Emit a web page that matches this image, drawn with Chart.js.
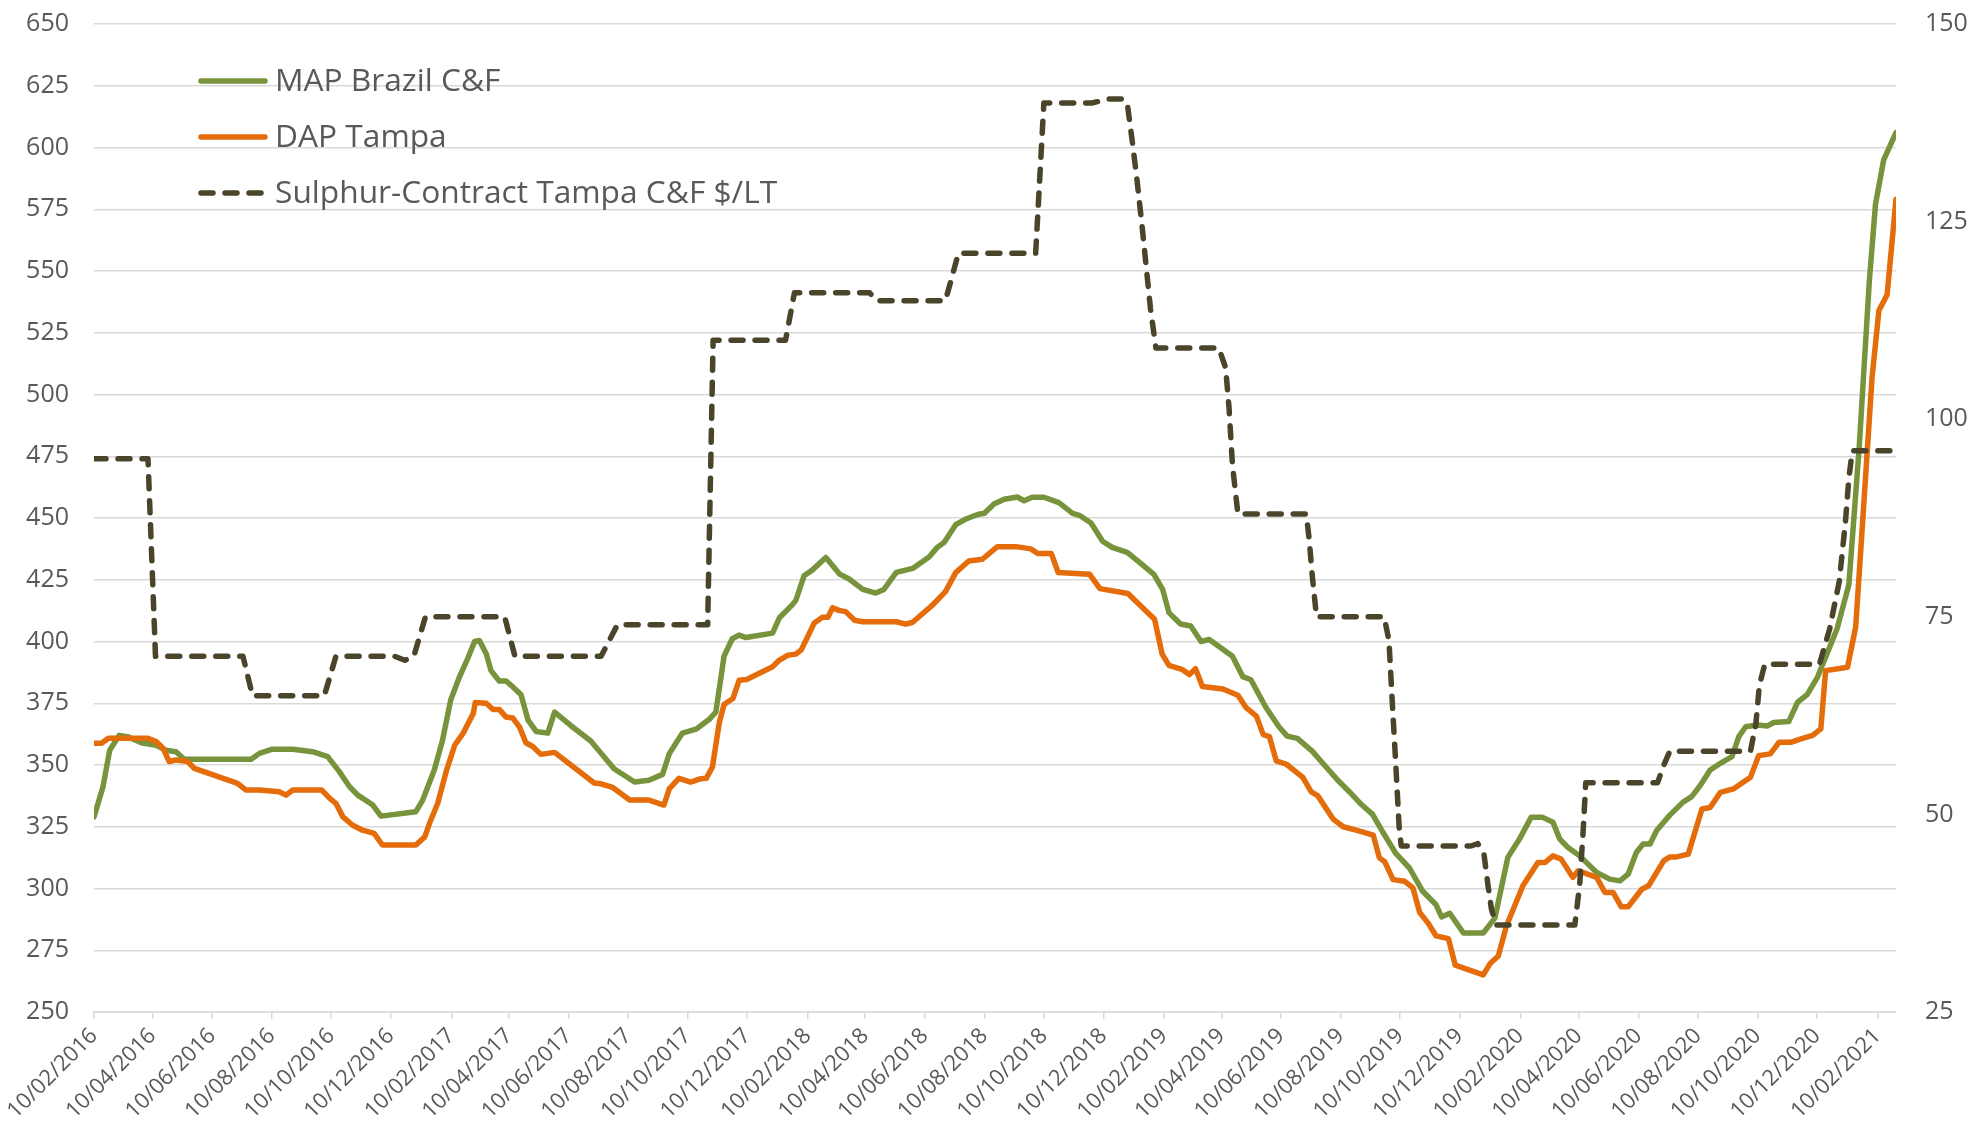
<!DOCTYPE html>
<html>
<head>
<meta charset="utf-8">
<title>MAP / DAP / Sulphur</title>
<script src="https://cdn.jsdelivr.net/npm/chart.js@4.4.1/dist/chart.umd.min.js"></script>
<style>
    html, body { margin: 0; padding: 0; background: #ffffff; }
    #wrap { width: 1977px; height: 1125px; }
</style>
</head>
<body>
<div id="wrap"><canvas id="myChart" width="1977" height="1125"></canvas></div>
<script>
// x values are weeks counted from 10/02/2016
const tickLabels = [
    "10/02/2016", "10/04/2016", "10/06/2016", "10/08/2016", "10/10/2016", "10/12/2016",
    "10/02/2017", "10/04/2017", "10/06/2017", "10/08/2017", "10/10/2017", "10/12/2017",
    "10/02/2018", "10/04/2018", "10/06/2018", "10/08/2018", "10/10/2018", "10/12/2018",
    "10/02/2019", "10/04/2019", "10/06/2019", "10/08/2019", "10/10/2019", "10/12/2019",
    "10/02/2020", "10/04/2020", "10/06/2020", "10/08/2020", "10/10/2020", "10/12/2020",
    "10/02/2021"
];
const leftTicks = [250, 650, 25];   // min, max, step
const rightTicks = [25, 150, 25];

const seriesNames = ["MAP Brazil C&F", "DAP Tampa", "Sulphur-Contract Tampa C&F $/LT"];

const mapWeeks = [
    0, 1.3, 2.3, 3.7, 4.9, 6.9, 9.1, 10.5, 12, 13.2,
    23, 24.2, 26.1, 29.1, 32, 34.2, 35.9, 37.4, 38.6, 40.8,
    42, 47.1, 48.1, 49.8, 51, 52.2, 53.5, 54.7, 55.7, 56.4,
    57.4, 58.1, 59.3, 60.3, 61.3, 62.5, 63.5, 64.7, 66.4, 67.4,
    69.8, 72.7, 76.1, 79.1, 81.2, 83.2, 84.2, 86.1, 88.1, 90,
    91, 92.2, 93.4, 94.4, 95.4, 99.3, 100.3, 102, 102.7, 103.9,
    105.1, 107.1, 109.1, 110.5, 112.5, 114.4, 115.6, 117.4, 119.8, 122.2,
    123.4, 124.4, 126.1, 127.6, 129.3, 130.3, 131.7, 133.2, 135.1, 136.1,
    137.3, 139, 141.2, 143.2, 144.2, 145.9, 147.6, 149, 151.2, 153.4,
    155.1, 156.4, 157.3, 159, 160.5, 162, 163.2, 166.6, 168.1, 169.3,
    171.5, 173.4, 174.6, 176.1, 178.3, 180.3, 182.2, 183.7, 185.4, 187.1,
    188.5, 190.5, 192.5, 194.4, 196.4, 197.2, 198.4, 200.4, 203.3, 205,
    206.9, 208.6, 210.3, 212, 213.5, 214.5, 215.7, 217.4, 219.9, 221.8,
    223.3, 224.5, 225.7, 226.7, 227.7, 228.7, 230.6, 232.6, 233.8, 235.1,
    236.5, 238, 239.7, 240.7, 241.7, 243.4, 244.9, 245.8, 248, 249.3,
    250.7, 252.2, 253.4, 255.1, 256.8, 258.3, 259.8, 260.7, 261.9, 263.7
];
const mapValues = [
    329, 341, 356, 362, 361.5, 359, 358, 356, 355.4, 352.3,
    352.3, 354.7, 356.4, 356.4, 355.4, 353.4, 347.3, 341.2, 337.8, 333.8,
    329.3, 331.1, 335.8, 348, 360, 376.3, 385.8, 393.2, 400, 400.4,
    395, 388.2, 384, 384, 381.6, 378.4, 368.3, 363.6, 362.9, 371.4,
    365.9, 359.7, 348.5, 343.1, 343.8, 346.2, 354.7, 362.9, 364.5, 368.4,
    371.4, 394.1, 401.1, 402.6, 401.6, 403.4, 409.6, 414.3, 416.6, 426.6,
    428.9, 434, 427.3, 425.3, 421.1, 419.6, 421.1, 428, 429.6, 434.2,
    438.1, 440.1, 447.3, 449.6, 451.4, 451.9, 455.7, 457.6, 458.5, 457,
    458.4, 458.4, 456.2, 451.9, 451.1, 448, 440.6, 438.1, 436.1, 431.1,
    427.2, 421, 411.7, 407.1, 406.3, 400, 400.8, 394, 385.8, 384.5,
    373.3, 365.5, 361.7, 360.8, 355.5, 349.2, 343.3, 339.2, 334.2, 330,
    323.3, 314.2, 308.3, 299, 293.4, 288.5, 290, 282, 282, 288,
    312.6, 320, 328.8, 328.8, 326.8, 320, 316.6, 313.2, 306.5, 303.8,
    303.1, 305.8, 314.6, 318, 318, 323.6, 329.7, 335.1, 337.2, 341.9,
    348, 350.7, 353.4, 361.5, 365.5, 366.2, 365.8, 367.2, 367.6, 375.4,
    378.5, 385.5, 393.6, 405.4, 423, 478, 546, 577, 595, 606
];

const dapWeeks = [
    0, 1.1, 2.1, 7.9, 9.1, 10.1, 11, 12, 13.7, 14.7,
    21, 22.2, 24.2, 27.1, 28.1, 29.1, 33.3, 34.5, 35.4, 36.4,
    37.8, 39.3, 41, 42.2, 47.1, 48.4, 49.1, 50.3, 51.6, 52.8,
    54, 55.5, 55.8, 57.4, 58.4, 59.3, 60.3, 61.3, 62.3, 63.2,
    64.2, 65.4, 67.4, 73.2, 74.2, 75.9, 78.4, 81.2, 83.4, 84.2,
    85.6, 87.3, 88.6, 89.6, 90.5, 91.5, 92.2, 93.5, 94.4, 95.5,
    99.3, 100.3, 101.5, 102.7, 103.5, 105.4, 106.6, 107.4, 108.1, 109,
    110, 111.3, 112.5, 117.4, 118.8, 119.8, 122.7, 124.6, 126.1, 128,
    130, 132.2, 134.9, 137.1, 138.1, 140.1, 141.1, 145.7, 147.2, 151.3,
    155.2, 156.3, 157.3, 159.3, 160.3, 161.2, 162.2, 165.2, 167.4, 168.6,
    170.1, 171.1, 172, 173, 174.5, 176.9, 178.1, 179.1, 181.3, 182.8,
    184.7, 187.2, 188.1, 188.9, 190.1, 191.8, 193, 194, 195.2, 196.4,
    198.2, 199.2, 203.3, 204.3, 205.5, 206.7, 209.1, 211.3, 212.3, 213.5,
    214.7, 216.4, 217.2, 219.9, 221.1, 222.3, 223.5, 224.5, 226.5, 227.5,
    229.7, 230.6, 231.6, 233.3, 235.3, 236.5, 238, 239.9, 242.4, 243.6,
    245.3, 246.6, 248.3, 249.8, 251.5, 252.7, 253.4, 256.6, 257.8, 258.8,
    260.2, 261.2, 262.4, 263.7
];
const dapValues = [
    358.8, 358.8, 360.8, 360.8, 359.5, 356.8, 351.4, 352, 351.4, 348.6,
    342.6, 339.9, 339.9, 339.2, 337.8, 339.9, 339.9, 336.5, 334.5, 329.1,
    325.7, 323.6, 322.3, 317.6, 317.6, 320.9, 326.4, 334.5, 348, 358.1,
    362.8, 370.9, 375.3, 375, 372.5, 372.5, 369.4, 369, 365.2, 359,
    357.5, 354.3, 355.1, 342.7, 342.4, 340.9, 335.8, 335.8, 333.8, 340.4,
    344.6, 343.1, 344.3, 344.6, 349.2, 367.1, 374.5, 376.9, 384.3, 384.6,
    389.8, 392.5, 394.4, 394.9, 396.6, 407.5, 409.8, 409.8, 413.7, 412.6,
    412.1, 408.6, 408, 408, 407, 407.8, 414.7, 420.2, 427.9, 432.6,
    433.3, 438.4, 438.4, 437.5, 435.6, 435.6, 427.9, 427.2, 421.4, 419.4,
    409, 395, 390.3, 388.6, 386.6, 389, 381.8, 380.8, 378.2, 373.2,
    369.8, 362.3, 361.5, 351.7, 350.3, 345, 339.2, 337.5, 328.2, 325,
    323.6, 321.6, 312.4, 310.8, 303.6, 302.9, 300.3, 290.3, 286.1, 280.8,
    279.7, 269, 265, 269.6, 272.7, 284.9, 301.1, 310.5, 310.5, 313.2,
    311.9, 304.5, 307.2, 304.5, 298.4, 298.4, 292.6, 292.6, 299.7, 301.1,
    311.2, 312.8, 312.8, 313.9, 332.2, 332.8, 338.9, 340.3, 345, 353.8,
    354.5, 359.2, 359.2, 360.6, 362, 364.6, 388.2, 389.6, 405.8, 447.7,
    507, 534, 540.4, 579
];

const sulphurWeeks = [
    0, 7.9, 9, 21.8, 23.2, 33.7, 35.4, 44, 45.5, 46.8,
    48.5, 60.1, 61.6, 74.2, 76.6, 89.8, 90.6, 101.2, 102.5, 113.5,
    114.5, 124.6, 126.5, 137.8, 139, 146, 148.5, 150.5, 151.2, 151.9,
    152.6, 153.4, 154.6, 155.4, 164.6, 165.6, 166.1, 166.6, 167.4, 177.4,
    177.8, 178.3, 178.9, 188.8, 189.5, 190, 190.5, 191, 191.3, 201.5,
    202.5, 203.4, 204, 204.5, 205.2, 216.7, 217.4, 217.9, 218.3, 228.8,
    229.8, 230.6, 242.4, 243.2, 243.7, 244.5, 252.5, 254, 255.4, 256.3,
    256.8, 257.3, 263.7
];
const sulphurValues = [
    95, 95, 70, 70, 65, 65, 70, 70, 69.5, 70,
    75, 75, 70, 70, 74, 74, 110, 110, 116, 116,
    115, 115, 121, 121, 140, 140, 140.5, 140.5, 140, 135.4,
    130.5, 124.2, 114, 109, 109, 106.5, 101.4, 94.2, 88, 88,
    85, 80, 75, 75, 72, 64, 56.3, 48.3, 46, 46,
    46.3, 45, 41, 38, 36, 36, 41, 47.6, 54, 54,
    56.4, 58, 58, 61.5, 66.3, 69, 69, 73.5, 79.5, 87,
    92.5, 96, 96
];

document.addEventListener("DOMContentLoaded", function () {
    let chartInstance = null;

    const DAY = 86400000;
    function parseDay(s) {
        const p = s.split("/");
        return Date.UTC(+p[2], +p[1] - 1, +p[0]) / DAY;
    }
    const day0 = parseDay(tickLabels[0]);
    const tickDays = tickLabels.map(s => parseDay(s) - day0);

    function toPoints(weeks, values) {
        return weeks.map((w, i) => ({ x: w * 7, y: values[i] }));
    }

    const lastDay = mapWeeks[mapWeeks.length - 1] * 7;
    const textColor = "#595959";
    const gridColor = "#d9d9d9";

    // legend drawn inside the plot, top left, like the original
    const legendRows = [81, 137, 193];
    const insideLegend = {
        id: "insideLegend",
        afterDatasetsDraw(chart) {
            const ctx = chart.ctx;
            ctx.save();
            ctx.font = '31.7px "Open Sans"';
            ctx.fillStyle = textColor;
            ctx.textBaseline = "middle";
            chart.data.datasets.forEach((ds, i) => {
                const y = legendRows[i];
                ctx.strokeStyle = ds.borderColor;
                ctx.lineWidth = ds.borderWidth;
                ctx.lineCap = "round";
                ctx.setLineDash(ds.borderDash || []);
                ctx.beginPath();
                ctx.moveTo(201, y);
                ctx.lineTo(265, y);
                ctx.stroke();
                ctx.setLineDash([]);
                ctx.fillText(ds.label, 275, y + 1);
            });
            ctx.restore();
        }
    };

    // stop the tick labels from pushing the plot area down
    function noPad(axis) {
        axis.paddingTop = 0;
        axis.paddingBottom = 0;
    }

    function initChart() {
        const canvas = document.getElementById("myChart");
        if (!canvas) return;
        const ctx = canvas.getContext("2d");

        if (chartInstance) {
            chartInstance.destroy();
        }

        chartInstance = new Chart(ctx, {
            type: "line",
            data: {
                datasets: [
                    {
                        label: seriesNames[0],
                        data: toPoints(mapWeeks, mapValues),
                        borderColor: "#77933C",
                        borderWidth: 5.5,
                        yAxisID: "y",
                        order: 2
                    },
                    {
                        label: seriesNames[1],
                        data: toPoints(dapWeeks, dapValues),
                        borderColor: "#E46C0A",
                        borderWidth: 5.5,
                        yAxisID: "y",
                        order: 1
                    },
                    {
                        label: seriesNames[2],
                        data: toPoints(sulphurWeeks, sulphurValues),
                        borderColor: "#4A452A",
                        borderWidth: 5.5,
                        borderDash: [12, 12],
                        yAxisID: "y2",
                        order: 0
                    }
                ]
            },
            options: {
                responsive: false,
                animation: false,
                devicePixelRatio: 1,
                layout: { padding: { top: 24, left: 0, right: 0, bottom: 0 } },
                elements: {
                    point: { radius: 0 },
                    line: { tension: 0, borderJoinStyle: "round", borderCapStyle: "round", fill: false }
                },
                plugins: {
                    legend: { display: false },
                    tooltip: { enabled: false },
                    title: { display: false }
                },
                scales: {
                    x: {
                        type: "linear",
                        min: 0,
                        max: lastDay,
                        afterBuildTicks: axis => {
                            axis.ticks = tickDays.map(v => ({ value: v }));
                        },
                        afterFit: axis => { axis.height = 113; },
                        grid: {
                            drawOnChartArea: false,
                            drawTicks: true,
                            tickLength: 7,
                            color: gridColor,
                            lineWidth: 1.5
                        },
                        border: { display: true, color: gridColor, width: 1.5 },
                        ticks: {
                            autoSkip: false,
                            maxRotation: 45,
                            minRotation: 45,
                            padding: 4,
                            color: textColor,
                            font: { family: "Open Sans", size: 22 },
                            callback: (value, index) => tickLabels[index]
                        }
                    },
                    y: {
                        position: "left",
                        min: leftTicks[0],
                        max: leftTicks[1],
                        afterFit: axis => { axis.width = 94; noPad(axis); },
                        grid: { color: gridColor, lineWidth: 1.5, drawTicks: false },
                        border: { display: false },
                        ticks: {
                            stepSize: leftTicks[2],
                            padding: 25,
                            color: textColor,
                            font: { family: "Open Sans", size: 25 }
                        }
                    },
                    y2: {
                        position: "right",
                        min: rightTicks[0],
                        max: rightTicks[1],
                        afterFit: axis => { axis.width = 81; noPad(axis); },
                        grid: { drawOnChartArea: false, drawTicks: false },
                        border: { display: false },
                        ticks: {
                            stepSize: rightTicks[2],
                            padding: 29,
                            color: textColor,
                            font: { family: "Open Sans", size: 25 }
                        }
                    }
                }
            },
            plugins: [insideLegend]
        });
    }

    if (document.fonts && document.fonts.load) {
        Promise.all([
            document.fonts.load('25px "Open Sans"'),
            document.fonts.load('31.7px "Open Sans"')
        ]).then(initChart, initChart);
    } else {
        initChart();
    }
});
</script>
</body>
</html>
